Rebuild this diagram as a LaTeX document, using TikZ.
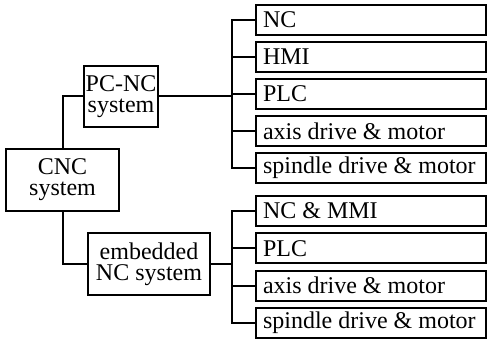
\documentclass[tikz,border=0pt]{standalone}
\usepackage{fontspec}
\setmainfont{Liberation Serif}
\newcommand\parttext[1]{\makebox[108pt][l]{#1}}
\tikzset{
  sysbox/.style={draw, line width=1pt, align=center, inner sep=1pt,
    font=\fontsize{12}{10.5}\selectfont},
  partbox/.style={draw, line width=1pt, anchor=west, minimum height=15pt,
    inner xsep=3.5pt, inner ysep=0pt, font=\fontsize{12}{10.5}\selectfont},
  link/.style={line width=1pt}
}
\begin{document}
\begin{tikzpicture}[x=0.5pt, y=-0.5pt]
  \useasboundingbox (0,0) rectangle (487,341);
  % system boxes
  \node[sysbox, minimum width=56.5pt, minimum height=31pt] (cnc) at (62.5,180) {CNC\\system};
  \node[sysbox, minimum width=33pt, minimum height=30.5pt] (pcnc) at (121,96.5) {PC-NC\\system};
  \node[sysbox, minimum width=61pt, minimum height=31pt] (emb) at (149,264) {embedded\\NC system};
  \draw[link] (cnc.north) |- (pcnc.west);
  \draw[link] (cnc.south) |- (emb.west);
  % component boxes
  \coordinate (topbus) at (232,96.5);
  \coordinate (botbus) at (232,264);
  \foreach \name [count=\i] in {NC, HMI, PLC, axis drive \& motor, spindle drive \& motor}
    \node[partbox] (t\i) at (255,{20+37*(\i-1)}) {\parttext{\name}};
  \foreach \name [count=\i] in {NC \& MMI, PLC, axis drive \& motor, spindle drive \& motor}
    \node[partbox] (b\i) at (255,{211+37.3*(\i-1)}) {\parttext{\name}};
  \draw[link] (pcnc.east) -- (topbus);
  \draw[link] (emb.east) -- (botbus);
  \foreach \i in {1,...,5}
    \draw[link] (t\i.west) -| (topbus);
  \foreach \i in {1,...,4}
    \draw[link] (b\i.west) -| (botbus);
\end{tikzpicture}
\end{document}
